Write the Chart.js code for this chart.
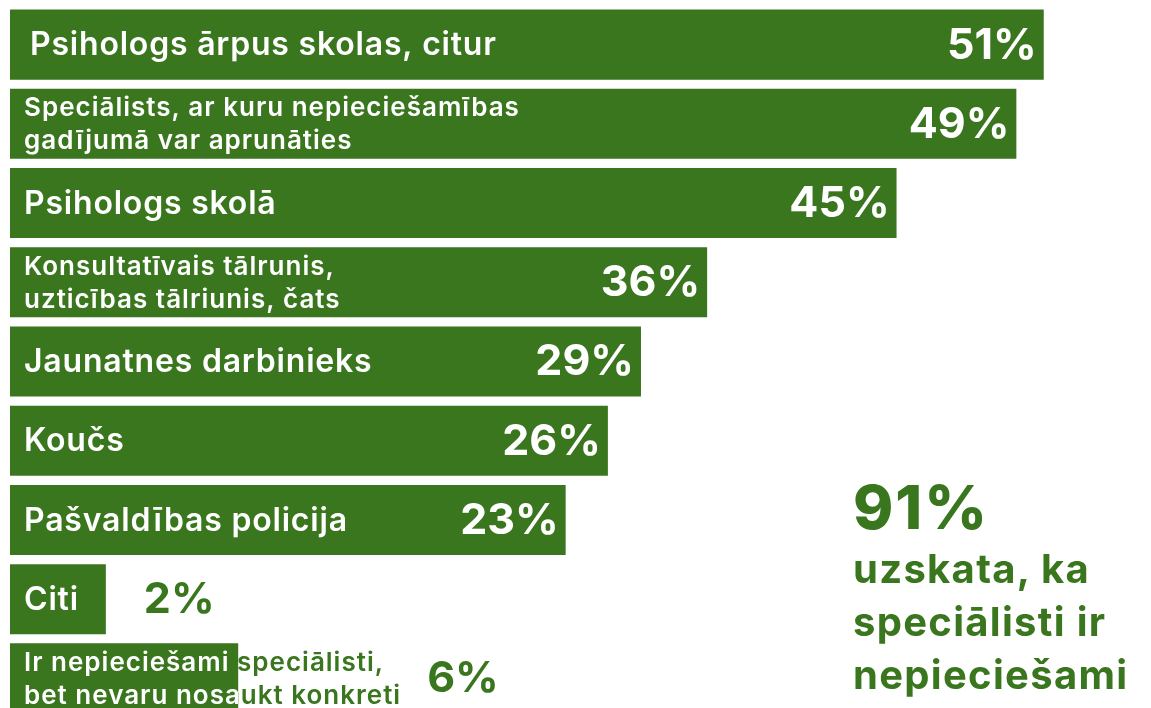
<!DOCTYPE html>
<html>
<head>
<meta charset="utf-8">
<script src="https://cdn.jsdelivr.net/npm/chart.js@4.4.1/dist/chart.umd.min.js"></script>
<style>
  html, body { margin: 0; padding: 0; background: #fff; overflow: hidden; }
  #wrap { position: relative; width: 1151px; height: 708px; overflow: hidden; }
  #chart { position: absolute; left: 0; top: 0; }
  #callout { position: absolute; left: 853px; top: 474px; color: #3a761e; font-family: Inter, sans-serif; font-weight: 800; }
  #callout .big { font-size: 61px; line-height: 66px; letter-spacing: 2px; }
  #callout .small { font-size: 40px; line-height: 53px; font-weight: 700; letter-spacing: 1.3px; margin-top: 2px; }
</style>
</head>
<body>
<div id="wrap">
  <canvas id="chart" width="1151" height="718"></canvas>
  <div id="callout">
    <div class="big">91%</div>
    <div class="small">uzskata, ka<br>speciālisti ir<br>nepieciešami</div>
  </div>
</div>
<script>
'use strict';

var categories = [
  ['Psihologs ārpus skolas, citur'],
  ['Speciālists, ar kuru nepieciešamības', 'gadījumā var aprunāties'],
  ['Psihologs skolā'],
  ['Konsultatīvais tālrunis,', 'uzticības tālriunis, čats'],
  ['Jaunatnes darbinieks'],
  ['Koučs'],
  ['Pašvaldības policija'],
  ['Citi'],
  ['Ir nepieciešami speciālisti,', 'bet nevaru nosaukt konkreti']
];
// share of respondents, shown as the label
var percents = [51, 49, 45, 36, 29, 26, 23, 2, 6];
// drawn bar length as it appears in the picture (not proportional to percents)
var barLength = [90.6, 88.2, 77.7, 61.1, 55.3, 52.4, 48.7, 8.4, 20.0];

var green = '#3a761e';

var labelPlugin = {
  id: 'barLabels',
  afterDatasetsDraw: function(chart) {
    var ctx = chart.ctx;
    var meta = chart.getDatasetMeta(0);
    meta.data.forEach(function(bar, i) {
      var lines = categories[i];
      var left = bar.base;
      var right = bar.x;
      var top = bar.y - bar.height / 2;
      var h = bar.height;
      var cy = bar.y;
      var twoLines = lines.length > 1;
      var labelFont = twoLines ? '600 26px Inter' : '600 32px Inter';
      var labelSpacing = twoLines ? '1px' : '0.8px';
      var lineH = 33;
      var tx = left + (i === 0 ? 20 : 14);
      var pctFont = '700 43px Inter';

      ctx.save();
      ctx.font = labelFont;
      ctx.letterSpacing = labelSpacing;
      var labelEnd = tx;
      lines.forEach(function(l) { labelEnd = Math.max(labelEnd, tx + ctx.measureText(l).width); });
      ctx.font = pctFont;
      ctx.letterSpacing = '0px';
      var pctText = percents[i] + '%';
      var pw = ctx.measureText(pctText).width;
      var inside = right - labelEnd > pw + 20;
      var px = inside ? right - 7 - pw : Math.max(right + 38, labelEnd + 26);
      ctx.restore();

      var drawTexts = function(color) {
        ctx.fillStyle = color;
        ctx.textBaseline = 'middle';
        ctx.textAlign = 'left';
        ctx.font = labelFont;
        ctx.letterSpacing = labelSpacing;
        var y0 = cy - (lines.length - 1) * lineH / 2 + 1;
        lines.forEach(function(l, k) { ctx.fillText(l, tx, y0 + k * lineH); });
        ctx.font = pctFont;
        ctx.letterSpacing = '0px';
        ctx.fillText(pctText, px, cy + 1);
      };

      // text outside the bar in green, inside in white
      ctx.save();
      drawTexts(green);
      ctx.beginPath();
      ctx.rect(left, top, right - left, h);
      ctx.clip();
      drawTexts('#ffffff');
      ctx.restore();
    });
  }
};

var ctx = document.getElementById('chart').getContext('2d');
var myChart = new Chart(ctx, {
  type: 'bar',
  data: {
    labels: categories,
    datasets: [{
      data: barLength,
      backgroundColor: green,
      borderWidth: 0,
      barPercentage: 0.884,
      categoryPercentage: 1
    }]
  },
  options: {
    indexAxis: 'y',
    responsive: false,
    animation: false,
    layout: { padding: { left: 10, top: 5, right: 0, bottom: 0 } },
    scales: {
      x: { display: false, min: 0, max: 100 },
      y: { display: false }
    },
    plugins: {
      legend: { display: false },
      tooltip: { enabled: false }
    }
  },
  plugins: [labelPlugin]
});
</script>
</body>
</html>
